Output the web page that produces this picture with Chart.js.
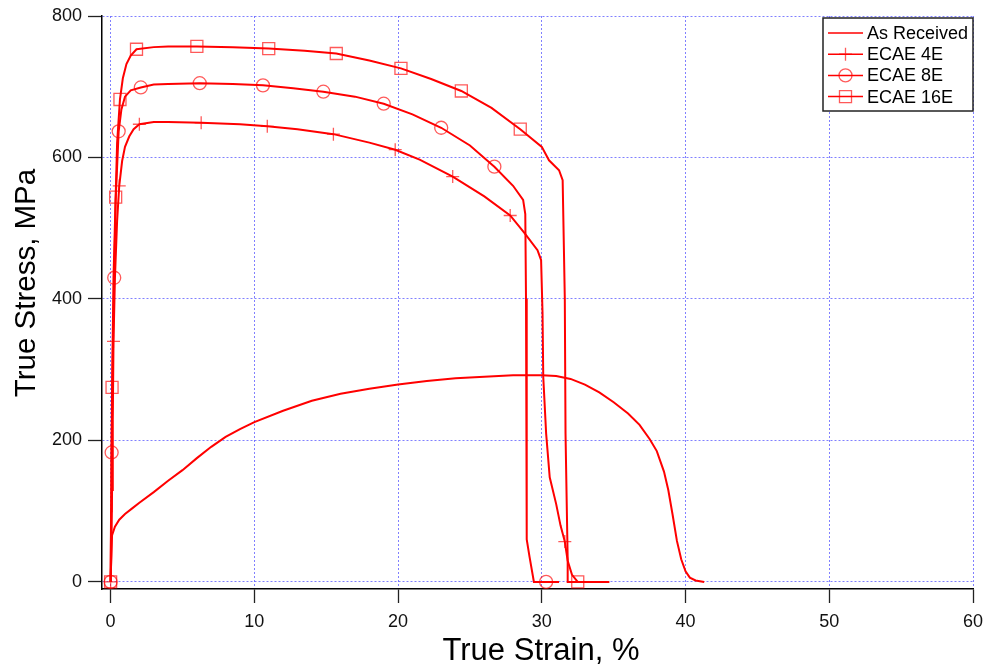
<!DOCTYPE html>
<html>
<head>
<meta charset="utf-8">
<script src="https://cdn.jsdelivr.net/npm/chart.js@4.4.0/dist/chart.umd.min.js"></script>
<style>
  html, body { margin: 0; padding: 0; background: #fff; }
</style>
</head>
<body>
<canvas id="stressStrain" width="986" height="666"></canvas>
<script>
// tick values
var strainTicks = [0, 10, 20, 30, 40, 50, 60];
var stressTicks = [0, 200, 400, 600, 800];

// As Received curve (strain %, stress MPa)
var asRecStrain = [0, 0.05, 0.1, 0.3, 0.6, 1, 1.5, 2, 3, 4, 5, 6, 7, 8, 9, 10, 12, 14, 16, 18, 20, 22, 24, 26, 28, 30, 31, 32, 33, 34, 35, 36, 36.8, 37.5, 38, 38.5, 38.8, 39.1, 39.4, 39.7, 40, 40.3, 40.7, 41.3];
var asRecStress = [0, 40, 66, 78, 88, 96, 104, 112, 127, 143, 158, 175, 191, 205, 216, 226, 242, 256, 266, 273, 279, 284, 288, 290, 292, 292, 291, 287, 279, 268, 254, 238, 222, 202, 185, 156, 130, 95, 58, 32, 15, 6, 2, 0];

// ECAE 4E
var e4Strain = [0, 0.05, 0.1, 0.15, 0.2, 0.3, 0.45, 0.6, 0.8, 1.0, 1.3, 1.6, 2.0, 3, 4, 6.3, 9, 10.9, 13, 15.5, 18, 19.8, 21.5, 23.8, 26, 27.8, 28.8, 29.7, 29.95, 30.05, 30.1, 30.3, 30.55, 31.0, 31.3, 31.6, 31.8, 32.1, 32.5];
var e4Stress = [0, 40, 130, 230, 340, 430, 510, 560, 595, 615, 630, 640, 647, 650, 650, 649, 647, 644, 640, 633, 621, 611, 597, 573, 545, 518, 493, 469, 455, 380, 290, 210, 148, 110, 80, 57, 30, 10, 0];
var e4MarkStrain = [0, 0.2, 0.6, 2.0, 6.3, 10.9, 15.5, 19.8, 23.8, 27.8, 31.6];
var e4MarkStress = [0, 340, 560, 647, 649, 644, 633, 611, 573, 518, 57];

// ECAE 8E
var e8Strain = [0, 0.04, 0.07, 0.15, 0.25, 0.35, 0.56, 0.75, 1.0, 1.4, 2.1, 3, 4, 6.2, 8.5, 10.6, 12.7, 14.8, 17, 19, 21, 23, 25, 26.7, 28, 28.7, 28.85, 28.9, 28.95, 29.15, 29.45, 31.2];
var e8Stress = [0, 100, 183, 320, 430, 540, 637, 668, 686, 695, 699, 703, 704, 705, 704, 702, 698, 693, 686, 676, 661, 642, 617, 587, 560, 540, 520, 400, 60, 35, 0, 0];
var e8MarkStrain = [0, 0.07, 0.25, 0.56, 2.1, 6.2, 10.6, 14.8, 19.0, 23.0, 26.7, 30.3];
var e8MarkStress = [0, 183, 430, 637, 699, 705, 702, 693, 676, 642, 587, 0];

// ECAE 16E
var e16Strain = [0, 0.03, 0.1, 0.2, 0.35, 0.45, 0.65, 0.85, 1.1, 1.4, 1.8, 3, 4, 6, 8.5, 11, 13.5, 15.7, 18, 20.2, 22.3, 24.4, 26.5, 28.5, 30, 30.5, 31.2, 31.45, 31.6, 31.65, 31.8, 31.8, 32.5, 34.7];
var e16Stress = [0, 100, 275, 430, 544, 620, 682, 712, 732, 744, 753, 756, 757, 757, 756, 754, 751, 747, 737, 726, 711, 694, 670, 640, 615, 596, 582, 568, 400, 210, 31, 0, 0, 0];
var e16MarkStrain = [0, 0.1, 0.35, 0.65, 1.8, 6.0, 11.0, 15.7, 20.2, 24.4, 28.5, 32.5];
var e16MarkStress = [0, 275, 544, 682, 753, 757, 754, 747, 726, 694, 640, 0];

var seriesNames = ["As Received", "ECAE 4E", "ECAE 8E", "ECAE 16E"];
var seriesStyles = [null, "cross", "circle", "rect"];

function pts(xs, ys) {
  var out = [];
  for (var i = 0; i < xs.length; i++) out.push({x: xs[i], y: ys[i]});
  return out;
}

var RED = "#ff0000";
var MARK = "rgba(255,0,0,0.65)";

function curve(label, xs, ys) {
  return {
    label: label, data: pts(xs, ys), showLine: true,
    borderColor: RED, borderWidth: 2, pointRadius: 0, tension: 0,
    fill: false
  };
}
function marks(label, xs, ys, style, r) {
  return {
    label: label, data: pts(xs, ys), showLine: false,
    pointStyle: style, pointRadius: r, pointBorderColor: MARK,
    pointBackgroundColor: "rgba(0,0,0,0)", pointBorderWidth: 1.3
  };
}

// axis titles + legend box
var decor = {
  id: "decor",
  afterDraw: function(chart) {
    var ctx = chart.ctx;
    ctx.save();
    ctx.fillStyle = "#000";
    ctx.textAlign = "center";
    ctx.textBaseline = "alphabetic";
    ctx.font = "31px 'Liberation Sans', Arial, sans-serif";
    ctx.fillText("True Strain, %", 541, 660);
    ctx.font = "29.5px 'Liberation Sans', Arial, sans-serif";
    ctx.translate(35, 283);
    ctx.rotate(-Math.PI / 2);
    ctx.fillText("True Stress, MPa", 0, 0);
    ctx.restore();

    // legend
    ctx.save();
    ctx.fillStyle = "#fff";
    ctx.fillRect(823, 18, 150, 93);
    ctx.strokeStyle = "#222";
    ctx.lineWidth = 1.5;
    ctx.strokeRect(823, 18, 150, 93);
    ctx.font = "18px 'Liberation Sans', Arial, sans-serif";
    ctx.textBaseline = "middle";
    for (var i = 0; i < seriesNames.length; i++) {
      var y = 33 + i * 21.2;
      ctx.strokeStyle = RED;
      ctx.lineWidth = 1.5;
      ctx.beginPath();
      ctx.moveTo(828, y);
      ctx.lineTo(863, y);
      ctx.stroke();
      if (seriesStyles[i]) {
        ctx.strokeStyle = MARK;
        ctx.fillStyle = "rgba(0,0,0,0)";
        ctx.lineWidth = 1.3;
        Chart.helpers.drawPoint(ctx, {pointStyle: seriesStyles[i], radius: seriesStyles[i] == "rect" ? 8.5 : 6.5, borderWidth: 1.3, rotation: 0}, 845.5, y);
      }
      ctx.fillStyle = "#000";
      ctx.fillText(seriesNames[i], 867, y + 1);
    }
    ctx.restore();
  }
};

var gridCol = "rgba(85,85,255,0.75)";

var ctx = document.getElementById("stressStrain");
var myChart = new Chart(ctx, {
  type: "scatter",
  data: {
    datasets: [
      curve("As Received", asRecStrain, asRecStress),
      curve("ECAE 4E", e4Strain, e4Stress),
      curve("ECAE 8E", e8Strain, e8Stress),
      curve("ECAE 16E", e16Strain, e16Stress),
      marks("ECAE 4E", e4MarkStrain, e4MarkStress, "cross", 6.5),
      marks("ECAE 8E", e8MarkStrain, e8MarkStress, "circle", 6.5),
      marks("ECAE 16E", e16MarkStrain, e16MarkStress, "rect", 8.5)
    ]
  },
  options: {
    responsive: false,
    animation: false,
    layout: { padding: { top: 16, right: 13, left: 0, bottom: 0 } },
    plugins: { legend: { display: false }, tooltip: { enabled: false } },
    scales: {
      x: {
        type: "linear", min: -0.6, max: 60,
        afterBuildTicks: function(s) { s.ticks = strainTicks.map(function(v) { return {value: v}; }); },
        afterFit: function(s) { s.height = 77; s.paddingLeft = 0; s.paddingRight = 0; },
        grid: { color: gridCol, lineWidth: 1, tickColor: "#222", tickWidth: 1.3, tickLength: 14, tickBorderDash: [] },
        border: { display: true, color: "#000", width: 1.5, dash: [2, 2] },
        ticks: { color: "#111", font: { size: 18, family: "'Liberation Sans', Arial, sans-serif" }, padding: 8, maxRotation: 0 }
      },
      y: {
        type: "linear", min: -10, max: 800,
        afterBuildTicks: function(s) { s.ticks = stressTicks.map(function(v) { return {value: v}; }); },
        afterFit: function(s) { s.width = 102; s.paddingTop = 0; s.paddingBottom = 0; },
        grid: { color: gridCol, lineWidth: 1, tickColor: "#222", tickWidth: 1.3, tickLength: 14, tickBorderDash: [] },
        border: { display: true, color: "#000", width: 1.5, dash: [2, 2] },
        ticks: { color: "#111", font: { size: 18, family: "'Liberation Sans', Arial, sans-serif" }, padding: 6 }
      }
    }
  },
  plugins: [decor]
});
</script>
</body>
</html>
